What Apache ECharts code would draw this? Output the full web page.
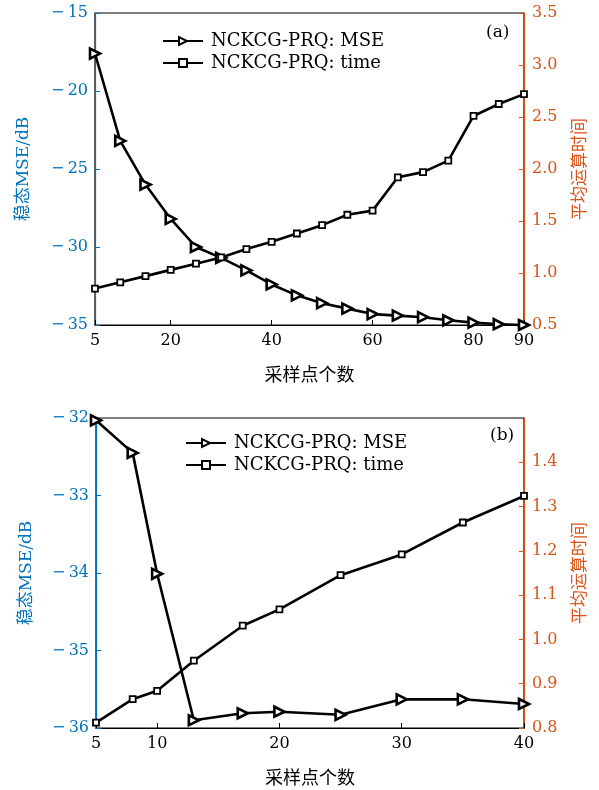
<!DOCTYPE html>
<html><head><meta charset="utf-8">
<script src="https://cdn.jsdelivr.net/npm/echarts@6/dist/echarts.min.js"></script>
<style>html,body{margin:0;padding:0;background:#fff}#c{width:599px;height:790px}</style>
</head><body><div id="c"></div>
<script>
// Panel (a)
const xA = [5,10,15,20,25,30,35,40,45,50,55,60,65,70,75,80,85,90];
const mseA = [-17.6,-23.2,-26.0,-28.2,-30.0,-30.7,-31.5,-32.4,-33.1,-33.6,-33.95,-34.3,-34.4,-34.5,-34.7,-34.85,-34.95,-35.0];
const timeA = [0.85,0.91,0.97,1.03,1.09,1.15,1.23,1.30,1.38,1.46,1.56,1.60,1.92,1.97,2.08,2.51,2.625,2.72];
const xTicksA = [5,20,40,60,80,90];
// Panel (b)
const xB = [5,8,10,13,17,20,25,30,35,40];
const mseB = [-32.03,-32.45,-34.01,-35.9,-35.81,-35.79,-35.83,-35.63,-35.63,-35.69];
const timeB = [0.812,0.865,0.884,0.952,1.031,1.068,1.145,1.192,1.264,1.324];
const xTicksB = [5,10,20,30,40];
const legendNames = ['NCKCG-PRQ: MSE','NCKCG-PRQ: time'];
const xName = '采样点个数';
const yLeftName = '稳态MSE/dB';
const yRightName = '平均运算时间';

const BLUE = '#0072BD', ORANGE = '#D95319';
const FONT = '"DejaVu Serif","Noto Sans CJK SC",serif';
const minus = v => (v < 0 ? '\u2212\u2009' + Math.abs(v) : '' + v);

function xAxisCfg(gi, min, max, ticks) {
  return {
    type: 'value', gridIndex: gi, min: min, max: max,
    name: xName, nameLocation: 'middle', nameGap: 42,
    nameTextStyle: {color: '#000', fontSize: 18, fontFamily: FONT},
    axisLine: {lineStyle: {color: '#000', width: 1.2}},
    axisTick: {inside: true, length: 5, customValues: ticks, lineStyle: {color: '#000'}},
    axisLabel: {customValues: ticks, color: '#000', fontSize: 16, fontFamily: FONT, margin: 8},
    splitLine: {show: false}
  };
}
function yLeft(gi, min, max, iv, gap) {
  return {
    type: 'value', gridIndex: gi, min: min, max: max, interval: iv, position: 'left',
    name: yLeftName, nameLocation: 'middle', nameRotate: 90, nameGap: gap,
    nameTextStyle: {color: BLUE, fontSize: 17, fontFamily: FONT},
    axisLine: {show: true, lineStyle: {color: BLUE, width: 1.2}},
    axisTick: {show: true, inside: true, length: 5, lineStyle: {color: BLUE}},
    axisLabel: {color: BLUE, fontSize: 16, fontFamily: FONT, margin: 7, formatter: minus},
    splitLine: {show: false}
  };
}
function yRight(gi, min, max, iv, showMax) {
  return {
    type: 'value', gridIndex: gi, min: min, max: max, interval: iv, position: 'right',
    name: yRightName, nameLocation: 'middle', nameRotate: 90, nameGap: 48,
    nameTextStyle: {color: ORANGE, fontSize: 17, fontFamily: FONT},
    axisLine: {show: true, lineStyle: {color: ORANGE, width: 1.2}},
    axisTick: {show: true, inside: true, length: 5, lineStyle: {color: ORANGE}},
    axisLabel: {color: ORANGE, fontSize: 16, fontFamily: FONT, margin: 8, showMaxLabel: showMax,
      formatter: v => (Math.round(v * 10) / 10).toFixed(1)},
    splitLine: {show: false}
  };
}
function mseSeries(xi, yi, xs, ys) {
  return {
    name: legendNames[0], type: 'line', xAxisIndex: xi, yAxisIndex: yi,
    data: xs.map((x, i) => [x, ys[i]]), clip: false,
    symbol: 'triangle', symbolRotate: -90, symbolSize: 10,
    lineStyle: {color: '#000', width: 2.6},
    itemStyle: {color: '#fff', borderColor: '#000', borderWidth: 2.6},
    emphasis: {disabled: true}, z: 3
  };
}
function timeSeries(xi, yi, xs, ys) {
  return {
    name: legendNames[1], type: 'line', xAxisIndex: xi, yAxisIndex: yi,
    data: xs.map((x, i) => [x, ys[i]]), clip: false,
    symbol: 'rect', symbolSize: 6,
    lineStyle: {color: '#000', width: 2.6},
    itemStyle: {color: '#fff', borderColor: '#000', borderWidth: 1.8},
    emphasis: {disabled: true}, z: 3
  };
}
function legendCfg(left, top) {
  return {
    left: left, top: top, orient: 'vertical', itemWidth: 40, itemHeight: 10, itemGap: 4,
    textStyle: {color: '#000', fontSize: 18, lineHeight: 18, fontFamily: FONT, padding: [0, 0, 0, 3]},
    data: legendNames
  };
}

const chart = echarts.init(document.getElementById('c'), null, {renderer: 'canvas'});
chart.setOption({
  backgroundColor: '#fff',
  animation: false,
  grid: [
    {left: 95, right: 75, top: 13, height: 312, show: true, borderColor: '#000', borderWidth: 1.2, backgroundColor: 'transparent'},
    {left: 96, right: 75, top: 418, height: 310, show: true, borderColor: '#000', borderWidth: 1.2, backgroundColor: 'transparent'}
  ],
  legend: [legendCfg(157, 27), legendCfg(180, 429)],
  xAxis: [xAxisCfg(0, 5, 90, xTicksA), xAxisCfg(1, 5, 40, xTicksB)],
  yAxis: [yLeft(0, -35, -15, 5, 63), yRight(0, 0.5, 3.5, 0.5, true), yLeft(1, -36, -32, 1, 61), yRight(1, 0.8, 1.5, 0.1, false)],
  series: [
    mseSeries(0, 0, xA, mseA), timeSeries(0, 1, xA, timeA),
    mseSeries(1, 2, xB, mseB), timeSeries(1, 3, xB, timeB)
  ],
  graphic: [
    {type: 'text', left: 486, top: 24, style: {text: '(a)', font: '17px ' + FONT, fill: '#000'}},
    {type: 'text', left: 490, top: 427, style: {text: '(b)', font: '17px ' + FONT, fill: '#000'}}
  ]
});
</script></body></html>
